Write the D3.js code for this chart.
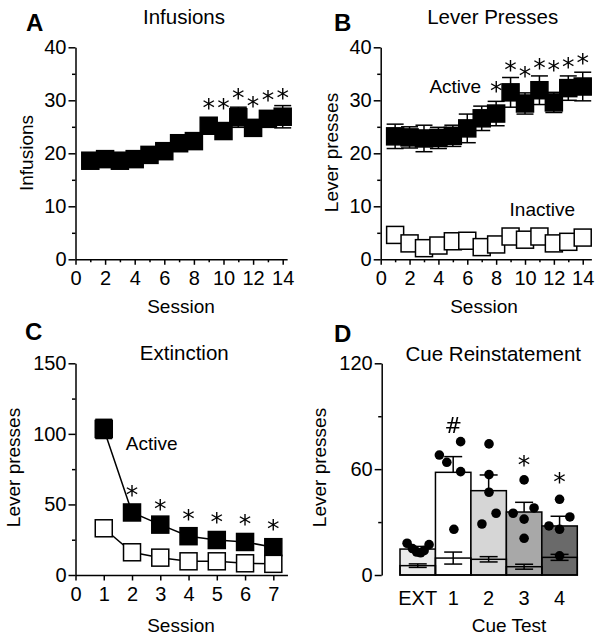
<!DOCTYPE html>
<html><head><meta charset="utf-8">
<script src="https://cdn.jsdelivr.net/npm/d3@7"></script>
<style>
body{margin:0;background:#fff}
svg{display:block}
text{font-family:"Liberation Sans",Arial,Helvetica,sans-serif;fill:#000}
text.sig{font-family:"DejaVu Sans",sans-serif;font-weight:normal}
</style>
</head><body>
<svg id="chart" width="604" height="640">
  <defs><filter id="gray" x="-20%" y="-20%" width="140%" height="140%"><feOffset dx="0" dy="0"/></filter></defs>
</svg>
<script>
// ---------- DATA ----------
const sessions14 = [1,2,3,4,5,6,7,8,9,10,11,12,13,14];
const infusionMean = [18.6,18.9,18.6,18.9,19.7,20.4,21.9,22.3,25.2,24.2,26.8,24.8,26.5,26.9];
const infusionSem  = [0.8,0.8,0.8,0.8,0.9,1.0,1.0,1.0,1.2,1.2,1.9,1.3,1.5,2.1];
const sigA = [{s:9,y:29.9},{s:10,y:29.9},{s:11,y:31.8},{s:12,y:30.2},{s:13,y:31.4},{s:14,y:31.8}];

const activeMean   = [23.2,23.0,22.8,22.9,23.3,24.7,26.6,27.5,31.5,29.4,31.9,29.6,32.3,32.6];
const activeSem    = [2.3,2.0,2.5,2.0,2.0,2.7,2.3,2.3,2.8,2.0,2.7,1.9,2.3,2.7];
const inactiveMean = [4.6,3.0,2.1,2.6,3.4,3.5,2.3,2.8,4.3,3.7,4.3,3.0,3.3,4.1];
const inactiveSem  = [0.9,0.7,0.6,0.6,0.8,0.8,0.6,0.7,0.9,0.8,0.9,0.7,0.7,0.9];
const sigB = [{s:8,y:33.0},{s:9,y:37.1},{s:10,y:36.0},{s:11,y:37.5},{s:12,y:37.0},{s:13,y:37.6},{s:14,y:38.4}];

const sessions7 = [1,2,3,4,5,6,7];
const extActive      = [103.5,44.3,35.7,27.5,24.8,23.4,19.7];
const extActiveSem   = [6.8,4.0,3.5,3.0,3.0,3.0,3.0];
const extInactive    = [33.1,16.1,12.3,9.7,9.7,8.3,7.9];
const extInactiveSem = [3.0,2.0,1.5,1.5,1.5,1.5,1.5];
const sigC = [{s:2,y:61.4},{s:3,y:51.9},{s:4,y:44.8},{s:5,y:42.5},{s:6,y:40.8},{s:7,y:37.6}];

const cueCats        = ["EXT","1","2","3","4"];
const cueActive      = [14.7,58.2,47.8,35.7,27.8];
const cueActiveSem   = [1.5,8.9,8.9,5.5,5.5];
const cueInactive    = [5.3,9.6,8.9,4.7,10.0];
const cueInactiveSem = [1.0,3.4,1.5,1.4,1.7];
const cueDots = [
  [18.0,15.0,13.0,12.6,13.8,17.2],
  [68.0,63.9,75.6,58.6,25.9],
  [74.3,56.9,46.9,35.0,28.9],
  [53.9,35.0,38.0,31.7,20.8],
  [42.9,32.9,27.8,25.9,10.9]
];
const cueJitter = [
  [-0.30,-0.15,-0.03,0.08,0.18,0.32],
  [-0.39,-0.18,0.21,0.21,0.02],
  [0.01,0.01,0.01,0.21,-0.19],
  [0.0,-0.31,0.28,0.0,0.0],
  [0.0,0.29,-0.30,0.0,0.0]
];
const sigD = [{c:"1",sym:"#",y:85},{c:"3",sym:"*",y:66.2},{c:"4",sym:"*",y:56.7}];
const cueFill = ["#ebebeb","#ffffff","#d6d6d6","#a8a8a8","#6a6a6a"];

const ticks40 = [0,10,20,30,40], minor40 = [5,15,25,35];
const ticksSess14 = [0,2,4,6,8,10,12,14], minorSess14 = [1,3,5,7,9,11,13];
const ticks150 = [0,50,100,150], minor150 = [25,75,125];
const ticksSess7 = [0,1,2,3,4,5,6,7];
const ticks120 = [0,60,120], minor120 = [30,90];

// ---------- DRAWING ----------
const svg = d3.select("#chart");
const SQ = 17, LW = 1.5, TICKFS = 20;

function styleAxis(g){
  g.attr("font-size",null).attr("font-family",null);
  g.selectAll("path.domain").attr("stroke","#000").attr("stroke-width",LW);
  g.selectAll(".tick line").attr("stroke","#000").attr("stroke-width",LW);
  g.selectAll(".tick text").style("font-size",TICKFS+"px");
}
function leftAxis(y, x0, majors, minors){
  const g = svg.append("g").attr("transform",`translate(${x0},0)`)
    .call(d3.axisLeft(y).tickValues(majors).tickSize(7).tickPadding(2).tickSizeOuter(0).tickFormat(d3.format("d")));
  styleAxis(g);
  if(minors){
    const m = svg.append("g").attr("transform",`translate(${x0},0)`)
      .call(d3.axisLeft(y).tickValues(minors).tickSize(3.5).tickFormat(""));
    m.select("path.domain").remove(); styleAxis(m);
  }
}
function bottomAxis(x, y0, majors, minors){
  const g = svg.append("g").attr("transform",`translate(0,${y0})`)
    .call(d3.axisBottom(x).tickValues(majors).tickSize(5.5).tickPadding(6).tickSizeOuter(0).tickFormat(d3.format("d")));
  styleAxis(g);
  if(minors){
    const m = svg.append("g").attr("transform",`translate(0,${y0})`)
      .call(d3.axisBottom(x).tickValues(minors).tickSize(3).tickFormat(""));
    m.select("path.domain").remove(); styleAxis(m);
  }
}
function txt(x,y,s,fs,opts={}){
  const t = svg.append("text").attr("x",x).attr("y",y).text(s).style("font-size",fs+"px")
    .attr("text-anchor",opts.anchor||"middle");
  if(opts.bold) t.style("font-weight","bold");
  if(opts.rot) t.attr("transform",`rotate(-90,${x},${y})`);
  return t;
}
function errBars(x, y, xs, means, sems, capW, dir){
  const g = svg.append("g").attr("stroke","#000").attr("stroke-width",LW);
  xs.forEach((s,i)=>{
    const cx = x(s), hi = y(means[i]+sems[i]), lo = y(means[i]-sems[i]), m = y(means[i]);
    const top = hi, bot = dir==="up" ? m : lo;
    g.append("line").attr("x1",cx).attr("x2",cx).attr("y1",top).attr("y2",bot);
    g.append("line").attr("x1",cx-capW/2).attr("x2",cx+capW/2).attr("y1",hi).attr("y2",hi);
    if(dir!=="up") g.append("line").attr("x1",cx-capW/2).attr("x2",cx+capW/2).attr("y1",lo).attr("y2",lo);
  });
}
function squares(x, y, xs, means, fill){
  svg.append("g").selectAll("rect").data(xs).join("rect")
    .attr("x",d=>x(d)-SQ/2).attr("y",(d,i)=>y(means[i])-SQ/2)
    .attr("width",SQ).attr("height",SQ)
    .attr("fill",fill).attr("stroke","#000").attr("stroke-width",LW);
}
const AST = 25, AOFF = 0.6;
const sigLayer = () => svg.append("g").attr("filter","url(#gray)");
function sigText(g, x, y, s, fs){
  g.append("text").attr("class","sig").attr("x",x).attr("y",y).attr("text-anchor","middle")
    .style("font-size",fs+"px").text(s);
}
function asterisks(x, y, list){
  const g = sigLayer();
  list.forEach(d=> sigText(g, x(d.s), y(d.y)+AOFF*AST, "*", AST));
}

// ---- Panel A ----
{
  const x = d3.scaleLinear().domain([0,14.3]).range([75.5,75.5+14.3*14.8]);
  const y = d3.scaleLinear().domain([0,40]).range([259.3,47.3]);
  errBars(x,y,sessions14,infusionMean,infusionSem,17);
  squares(x,y,sessions14,infusionMean,"#000");
  leftAxis(y,75.5,ticks40,minor40);
  bottomAxis(x,259.3,ticksSess14,minorSess14);
  asterisks(x,y,sigA);
  txt(26,30.7,"A",24,{anchor:"start",bold:true});
  txt(184,24,"Infusions",20.5);
  txt(33,153,"Infusions",19,{rot:true});
  txt(181,313,"Session",19);
}
// ---- Panel B ----
{
  const x = d3.scaleLinear().domain([0,14.6]).range([380.7,380.7+14.6*14.43]);
  const y = d3.scaleLinear().domain([0,40]).range([259.3,47.3]);
  errBars(x,y,sessions14,activeMean,activeSem,17);
  squares(x,y,sessions14,activeMean,"#000");
  errBars(x,y,sessions14,inactiveMean,inactiveSem,17);
  squares(x,y,sessions14,inactiveMean,"#fff");
  leftAxis(y,380.7,ticks40,minor40);
  bottomAxis(x,259.3,ticksSess14,minorSess14);
  asterisks(x,y,sigB);
  txt(334,30.7,"B",24,{anchor:"start",bold:true});
  txt(492.7,24,"Lever Presses",20.5);
  txt(338,152.5,"Lever presses",19,{rot:true});
  txt(484,313,"Session",19);
  txt(455.3,92.7,"Active",19);
  txt(542.3,216,"Inactive",19);
}
// ---- Panel C ----
{
  const x = d3.scaleLinear().domain([0,7.5]).range([75.5,75.5+7.5*28.26]);
  const y = d3.scaleLinear().domain([0,150]).range([575,363.3]);
  const line = d3.line().x(d=>x(d[0])).y(d=>y(d[1]));
  svg.append("path").attr("d",line(sessions7.map((s,i)=>[s,extActive[i]]))).attr("fill","none").attr("stroke","#000").attr("stroke-width",LW);
  svg.append("path").attr("d",line(sessions7.map((s,i)=>[s,extInactive[i]]))).attr("fill","none").attr("stroke","#000").attr("stroke-width",LW);
  errBars(x,y,sessions7,extActive,extActiveSem,17);
  squares(x,y,sessions7,extActive,"#000");
  errBars(x,y,sessions7,extInactive,extInactiveSem,17);
  squares(x,y,sessions7,extInactive,"#fff");
  leftAxis(y,75.5,ticks150,minor150);
  bottomAxis(x,575,ticksSess7,null);
  asterisks(x,y,sigC);
  txt(25,340,"C",24,{anchor:"start",bold:true});
  txt(184.3,360,"Extinction",20.5);
  txt(20,467.5,"Lever presses",19,{rot:true});
  txt(181,631.7,"Session",19);
  txt(151.7,450,"Active",19);
}
// ---- Panel D ----
{
  const x = d3.scaleBand().domain(cueCats).range([400,577.3]).paddingInner(0).paddingOuter(0);
  const y = d3.scaleLinear().domain([0,120]).range([575,363.3]);
  const bw = x.bandwidth();
  const cx = c=>x(c)+bw/2;
  svg.append("g").selectAll("rect").data(cueCats).join("rect")
    .attr("x",d=>x(d)).attr("y",(d,i)=>y(cueActive[i])).attr("width",bw)
    .attr("height",(d,i)=>y(0)-y(cueActive[i])).attr("fill",(d,i)=>cueFill[i])
    .attr("stroke","#000").attr("stroke-width",LW);
  errBars(cx,y,cueCats,cueActive,cueActiveSem,18,"up");
  svg.append("g").selectAll("rect").data(cueCats).join("rect")
    .attr("x",d=>x(d)).attr("y",(d,i)=>y(cueInactive[i])).attr("width",bw)
    .attr("height",(d,i)=>y(0)-y(cueInactive[i])).attr("fill","none")
    .attr("stroke","#000").attr("stroke-width",LW);
  errBars(cx,y,cueCats,cueInactive,cueInactiveSem,18);
  cueCats.forEach((c,i)=>{
    svg.append("g").selectAll("circle").data(cueDots[i]).join("circle")
      .attr("cx",(d,j)=>cx(c)+cueJitter[i][j]*bw).attr("cy",d=>y(d)).attr("r",4.8).attr("fill","#000");
  });
  leftAxis(y,381.7,ticks120,minor120);
  const xa = svg.append("g").attr("transform",`translate(0,575)`)
    .call(d3.axisBottom(x).tickSize(0).tickPadding(16));
  xa.select("path.domain").remove();
  styleAxis(xa);
  const g = sigLayer();
  sigD.forEach(d=>{
    const fs = d.sym==="#" ? 21 : AST;
    const off = d.sym==="#" ? 0.36*fs : AOFF*fs;
    sigText(g, cx(d.c), y(d.y)+off, d.sym, fs);
  });
  txt(334,341.7,"D",24,{anchor:"start",bold:true});
  txt(493.3,360.7,"Cue Reinstatement",20.5);
  txt(326.3,467.5,"Lever presses",19,{rot:true});
  txt(509,631.7,"Cue Test",19);
}
</script>
</body></html>
